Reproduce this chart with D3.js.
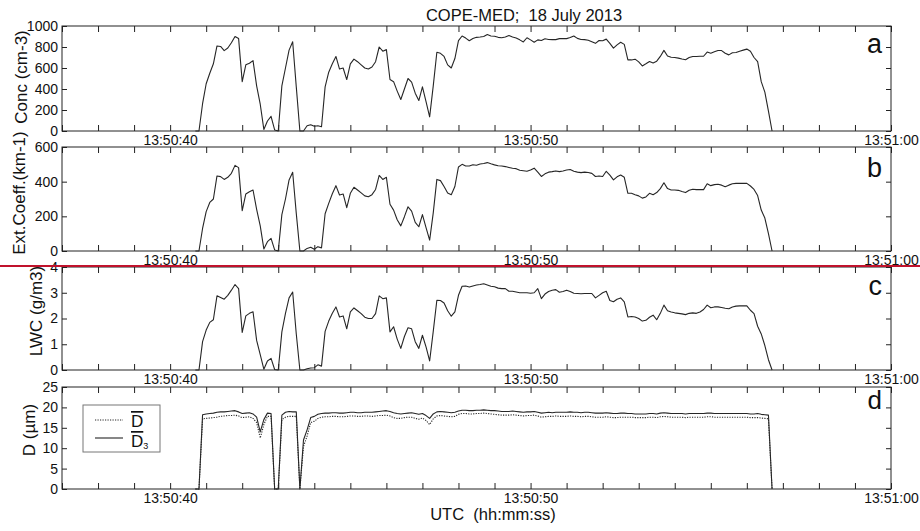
<!DOCTYPE html>
<html><head><meta charset="utf-8">
<script src="https://cdn.jsdelivr.net/npm/d3@7"></script>
<style>
body{margin:0;background:#fff}
svg{display:block;font-family:"Liberation Sans",Arial,sans-serif}
</style>
</head><body>
<svg id="chart" width="920" height="531"></svg>
<script>
// ---- DATA (10 Hz samples, seconds after 13:50:00, starting at 40.7 s) ----
const sampleStart = 40.7;
const sampleStep = 0.1;

const concA = [
 0,0,260,
 450,550,640,810,805,765,790,840,900,880,
 470,630,645,670,430,255,15,95,140,10,
 0,430,600,770,850,420,0,0,50,60,
 45,50,40,420,560,640,710,590,600,490,
 640,685,660,630,600,590,610,660,800,760,
 775,490,470,380,300,400,500,465,360,290,
 420,280,135,430,750,740,710,630,600,690,
 860,905,885,860,880,892,895,900,918,905,
 903,892,888,895,910,895,885,868,848,888,
 868,845,868,862,878,872,870,870,880,880,
 880,890,905,882,872,870,865,850,835,862,
 860,875,835,790,820,845,825,677,677,684,
 658,620,640,662,648,665,710,768,715,702,
 700,694,685,678,700,710,710,712,712,752,
 740,755,767,766,740,725,745,748,760,770,
 780,760,700,660,470,370,190,0
];
const extB = [
 0,0,130,
 227,280,300,433,429,413,425,448,494,481,
 233,329,342,352,240,145,12,54,73,6,
 0,210,300,410,454,217,0,0,15,22,
 10,25,18,215,275,330,377,323,329,250,
 333,368,352,335,318,313,325,355,436,413,
 425,270,236,180,145,198,255,230,165,140,
 210,135,63,220,413,406,372,335,325,372,
 485,500,490,490,498,495,502,505,510,503,
 497,492,490,487,482,477,475,466,463,460,
 467,478,455,430,445,455,458,462,458,462,
 467,470,460,455,452,455,453,448,430,433,
 430,460,438,410,428,438,425,333,333,325,
 318,305,312,333,325,337,360,394,360,352,
 352,350,343,337,350,356,354,354,354,388,
 377,383,385,380,371,380,388,390,390,390,
 390,375,355,320,236,190,100,0
];
const lwcC = [
 0,0,1.1,
 1.55,1.85,1.95,2.88,2.82,2.75,2.9,3.1,3.32,3.16,
 1.46,2.1,2.2,2.26,1.15,0.6,0.03,0.35,0.45,0.02,
 0,1.48,2.2,2.8,3.03,1.4,0,0,0.05,0.08,
 0.09,0.2,0.15,1.5,1.9,2.2,2.45,2.06,2.1,1.6,
 2.26,2.41,2.3,2.19,2.05,2.0,2.0,2.19,2.88,2.77,
 2.8,1.48,1.68,1.2,0.84,1.3,1.64,1.6,1.1,0.84,
 1.35,0.9,0.35,1.5,2.71,2.7,2.6,2.3,2.09,2.26,
 2.9,3.25,3.26,3.22,3.26,3.3,3.32,3.35,3.3,3.25,
 3.23,3.18,3.16,3.16,3.06,3.06,3.03,3.0,3.0,3.0,
 2.98,3.0,3.16,2.77,2.95,3.05,3.1,3.12,3.02,3.05,
 3.1,3.05,2.98,2.97,2.96,2.97,2.97,2.97,2.8,2.9,
 3.0,3.06,2.7,2.65,2.75,2.8,2.65,2.06,2.08,2.06,
 2.0,1.9,1.93,2.05,2.13,1.95,2.2,2.52,2.3,2.25,
 2.22,2.2,2.18,2.15,2.2,2.22,2.2,2.25,2.35,2.52,
 2.42,2.45,2.45,2.43,2.4,2.38,2.45,2.48,2.49,2.49,
 2.49,2.32,2.19,1.7,1.4,0.95,0.4,0
];
const diamD3 = [
 0,0,18.2,
 18.4,18.5,18.6,18.8,18.9,18.9,19.0,19.1,19.2,18.9,
 18.5,18.6,18.7,18.4,17.6,14.0,17.0,18.6,18.5,0,
 0,18.1,18.8,19.0,18.9,18.9,0,12.0,14.5,17.5,
 17.8,18.3,18.5,18.6,18.6,18.7,18.7,18.6,18.6,18.7,
 18.8,18.8,18.7,18.7,18.8,18.8,18.8,18.9,19.0,19.1,
 19.2,19.0,18.7,18.5,18.4,18.5,18.6,18.7,18.5,18.3,
 18.5,18.0,17.3,18.4,18.9,19.0,18.9,18.8,18.7,18.8,
 19.1,19.3,19.3,19.2,19.2,19.3,19.3,19.4,19.3,19.2,
 19.2,19.1,19.0,19.0,19.0,19.1,19.0,18.9,18.8,18.9,
 18.9,19.0,18.8,18.6,18.7,18.8,18.7,18.8,18.8,18.8,
 18.8,18.9,18.8,18.8,18.7,18.8,18.8,18.7,18.6,18.6,
 18.6,18.7,18.6,18.5,18.5,18.6,18.6,18.5,18.5,18.4,
 18.4,18.4,18.4,18.5,18.5,18.4,18.6,18.7,18.6,18.5,
 18.5,18.5,18.5,18.4,18.5,18.5,18.5,18.5,18.5,18.6,
 18.6,18.5,18.5,18.5,18.5,18.5,18.5,18.5,18.5,18.5,
 18.5,18.4,18.4,18.5,18.3,18.2,18.1,0
];
const diamD = [
 0,0,17.2,
 17.3,17.4,17.5,17.6,17.8,17.9,18.0,18.0,18.1,17.9,
 17.5,17.6,17.7,17.3,16.3,12.5,15.8,17.8,17.8,0,
 0,17.0,17.6,17.8,17.8,17.8,0,10.4,13.0,16.3,
 16.6,17.3,17.6,17.7,17.7,17.8,17.8,17.7,17.7,17.8,
 17.9,17.9,17.8,17.8,17.9,17.9,17.8,17.9,18.0,18.0,
 18.1,17.9,17.5,17.3,17.3,17.5,17.6,17.6,17.3,17.1,
 17.4,16.8,15.8,17.2,17.9,18.0,17.9,17.8,17.7,17.8,
 18.3,18.5,18.5,18.4,18.4,18.5,18.5,18.6,18.5,18.4,
 18.3,18.2,18.1,18.1,18.1,18.2,18.1,18.0,17.9,18.0,
 18.0,18.1,17.9,17.6,17.7,17.8,17.8,17.9,17.8,17.8,
 17.8,17.9,17.8,17.8,17.7,17.8,17.8,17.7,17.6,17.6,
 17.6,17.7,17.6,17.5,17.5,17.6,17.6,17.6,17.6,17.5,
 17.5,17.5,17.5,17.6,17.6,17.5,17.7,17.8,17.7,17.6,
 17.6,17.6,17.6,17.5,17.6,17.6,17.6,17.6,17.6,17.7,
 17.7,17.6,17.6,17.6,17.6,17.6,17.6,17.6,17.6,17.6,
 17.6,17.5,17.5,17.5,17.4,17.3,17.2,0
];

// axis ticks / labels
const xTickSeconds = [37,38,39,40,41,42,43,44,45,46,47,48,49,50,51,52,53,54,55,56,57,58,59,60];
const xLabelSeconds = [40,50,60];
const xLabelTexts = ["13:50:40","13:50:50","13:51:00"];
const concTicks = [0,200,400,600,800,1000];
const extTicks = [0,200,400,600];
const lwcTicks = [0,1,2,3,4];
const diamTicks = [0,5,10,15,20,25];

const titleText = "COPE-MED;  18 July 2013";
const xAxisTitle = "UTC  (hh:mm:ss)";

// ---- DRAW ----
const svg = d3.select("#chart");
const FONT = '"Liberation Sans",Arial,sans-serif';
const INK = "#222";
const times = concA.map((_, i) => +(sampleStart + i * sampleStep).toFixed(1));

const x = d3.scaleLinear().domain([37, 60]).range([62, 891]);

const panels = [
  {letter:"a", series:[{v:concA, dash:null}], top:26, bottom:131, domain:[0,1000], ticks:concTicks,
   label:"Conc (cm-3)", lx:27, ly:77, letterY:53, letterSize:27},
  {letter:"b", series:[{v:extB, dash:null}], top:147, bottom:251, domain:[0,600], ticks:extTicks,
   label:"Ext.Coeff.(km-1)", lx:25, ly:193, letterY:177, letterSize:27},
  {letter:"c", series:[{v:lwcC, dash:null}], top:267, bottom:370, domain:[0,4], ticks:lwcTicks,
   label:"LWC (g/m3)", lx:42, ly:311, letterY:295, letterSize:27},
  {letter:"d", series:[{v:diamD, dash:"1.2,1.3"},{v:diamD3, dash:null}], top:387, bottom:489, domain:[0,25], ticks:diamTicks,
   label:"D (\u00b5m)", lx:35, ly:430, letterY:409, letterSize:26}
];

function styleAxis(s, size) {
  s.select(".domain").remove();
  s.attr("font-family", FONT).attr("font-size", size).attr("color", INK);
  s.selectAll("text").attr("fill", "#111");
}

panels.forEach(p => {
  const y = d3.scaleLinear().domain(p.domain).range([p.bottom, p.top]);
  const g = svg.append("g");

  const fmt = d => { const i = xLabelSeconds.indexOf(d); return i >= 0 ? xLabelTexts[i] : ""; };
  g.append("g").attr("transform", `translate(0,${p.bottom})`)
    .call(d3.axisBottom(x).tickValues(xTickSeconds).tickSize(-6).tickSizeOuter(0).tickPadding(4).tickFormat(fmt))
    .call(s => styleAxis(s, 14));
  g.append("g").attr("transform", `translate(0,${p.top})`)
    .call(d3.axisTop(x).tickValues(xTickSeconds).tickSize(-6).tickSizeOuter(0).tickFormat(""))
    .call(s => styleAxis(s, 14));
  g.append("g").attr("transform", `translate(62,0)`)
    .call(d3.axisLeft(y).tickValues(p.ticks).tickSize(-5).tickSizeOuter(0).tickPadding(4).tickFormat(d3.format("d")))
    .call(s => styleAxis(s, 14));
  g.append("g").attr("transform", `translate(891,0)`)
    .call(d3.axisRight(y).tickValues(p.ticks).tickSize(-5).tickSizeOuter(0).tickFormat(""))
    .call(s => styleAxis(s, 14));

  g.append("rect").attr("x", 62).attr("y", p.top).attr("width", 891 - 62).attr("height", p.bottom - p.top)
    .attr("fill", "none").attr("stroke", INK).attr("stroke-width", 1);

  const line = d3.line().x((d, i) => x(times[i])).y(d => y(d));
  p.series.forEach(s => {
    g.append("path").attr("d", line(s.v)).attr("fill", "none")
      .attr("stroke", "#262626").attr("stroke-width", 1.1)
      .attr("stroke-linejoin", "round")
      .attr("stroke-dasharray", s.dash);
  });

  g.append("text").attr("transform", `translate(${p.lx},${p.ly}) rotate(-90)`)
    .attr("text-anchor", "middle").attr("font-size", 17).attr("fill", "#111").text(p.label);

  g.append("text").attr("x", 882).attr("y", p.letterY).attr("text-anchor", "end")
    .attr("font-size", p.letterSize).attr("fill", "#111").text(p.letter);
});

// legend (panel d)
const lg = svg.append("g");
lg.append("rect").attr("x", 83).attr("y", 405).attr("width", 77).attr("height", 47)
  .attr("fill", "#fff").attr("stroke", "#777").attr("stroke-width", 1);
lg.append("line").attr("x1", 95).attr("x2", 123).attr("y1", 420).attr("y2", 420)
  .attr("stroke", "#262626").attr("stroke-width", 1.1).attr("stroke-dasharray", "1.2,1.3");
lg.append("line").attr("x1", 95).attr("x2", 123).attr("y1", 438).attr("y2", 438)
  .attr("stroke", "#262626").attr("stroke-width", 1.1);
lg.append("text").attr("x", 131).attr("y", 427).attr("font-size", 17).attr("fill", "#111")
  .style("text-decoration", "overline").text("D");
const t3 = lg.append("text").attr("x", 131).attr("y", 447).attr("font-size", 17).attr("fill", "#111");
t3.append("tspan").style("text-decoration", "overline").text("D");
t3.append("tspan").attr("font-size", 9).attr("dy", 2).text("3");

// title and x-axis title
svg.append("text").attr("x", 524).attr("y", 21).attr("text-anchor", "middle")
  .attr("font-size", 16.5).attr("fill", "#111").style("white-space", "pre").text(titleText);
svg.append("text").attr("x", 493).attr("y", 520).attr("text-anchor", "middle")
  .attr("font-size", 16.5).attr("fill", "#111").style("white-space", "pre").text(xAxisTitle);

// red horizontal rule across the figure
svg.append("line").attr("x1", 0).attr("x2", 920).attr("y1", 266).attr("y2", 266)
  .attr("stroke", "#c0122c").attr("stroke-width", 2);
</script>
</body></html>
